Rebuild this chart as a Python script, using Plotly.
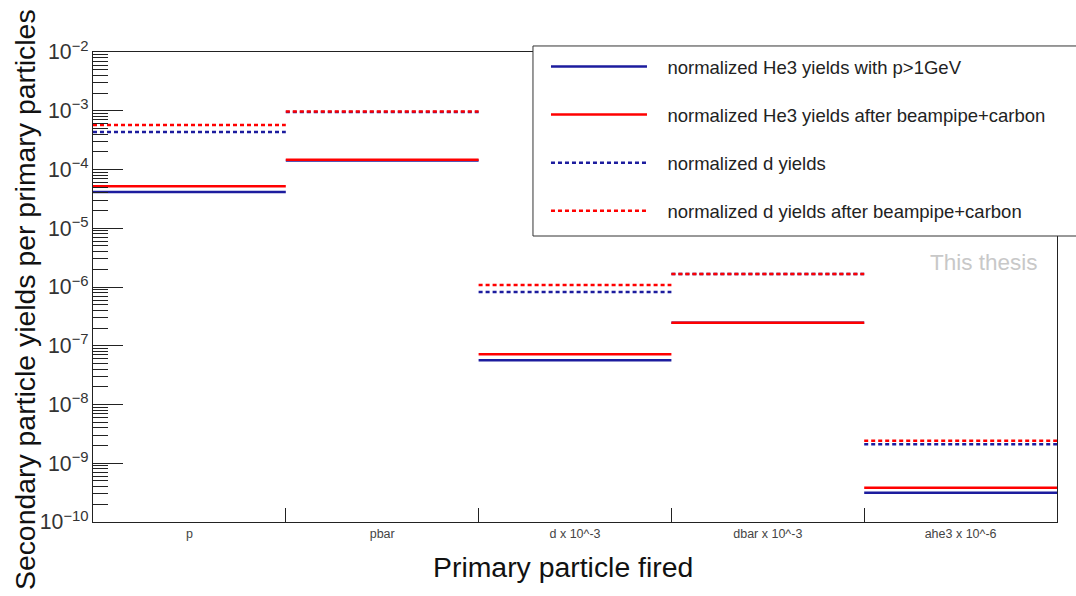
import numpy as np
import plotly.graph_objects as go

# Bins of the primary particle that was fired
categories = ["p", "pbar", "d x 10^-3", "dbar x 10^-3", "ahe3 x 10^-6"]

# Normalised secondary yields per primary particle, one value per bin
he3_p1gev = [4.15e-5, 1.42e-4, 5.65e-8, 2.47e-7, 3.15e-10]
he3_after_pipe = [5.2e-5, 1.47e-4, 7.15e-8, 2.47e-7, 3.84e-10]
d_yields = [4.35e-4, 9.5e-4, 8.2e-7, 1.66e-6, 2.1e-9]
d_after_pipe = [5.7e-4, 9.7e-4, 1.08e-6, 1.66e-6, 2.42e-9]

series = [
    ("normalized He3 yields with p>1GeV", he3_p1gev, "#1c1c9e", "solid"),
    ("normalized He3 yields after beampipe+carbon", he3_after_pipe, "#ff0000", "solid"),
    ("normalized d yields", d_yields, "#1c1c9e", "4px,3px"),
    ("normalized d yields after beampipe+carbon", d_after_pipe, "#ff0000", "4px,3px"),
]


def hist_segments(values):
    """Horizontal bin-wide segments, one per bin, with gaps between bins."""
    xs, ys = [], []
    for i, v in enumerate(values):
        xs += [i, i + 1, None]
        ys += [v, v, None]
    return xs, ys


fig = go.Figure()
pad = "\u00a0" * 3
for k, (name, vals, color, dash) in enumerate(series):
    xs, ys = hist_segments(vals)
    fig.add_trace(go.Scatter(
        x=xs, y=ys, mode="lines", name=pad + name,
        line=dict(color=color, width=2.5, dash=dash),
        legendgroup=f"g{k}",
    ))

font_main = "Liberation Sans, Arial, sans-serif"

fig.update_layout(
    width=1076, height=596, autosize=False,
    margin=dict(l=93, r=19, t=52, b=74),
    paper_bgcolor="white", plot_bgcolor="white",
    font=dict(family=font_main, color="#222"),
    showlegend=True,
    legend=dict(
        x=0.4699, y=1.0085, xanchor="left", yanchor="top",
        bgcolor="rgba(0,0,0,0)", borderwidth=0,
        font=dict(size=18.5, color="#222", family=font_main),
        itemwidth=96, tracegroupgap=21, traceorder="grouped",
    ),
    # frame around the legend, running out to the right edge of the page
    shapes=[
        dict(type="rect", xref="paper", yref="paper",
             x0=0.4564, x1=1.03, y0=0.6085, y1=1.0128,
             line=dict(color="#333", width=1), fillcolor="white", layer="above"),
    ],
    xaxis=dict(
        range=[0, 5], showgrid=False, zeroline=False,
        showline=True, mirror=True, linecolor="#222", linewidth=1,
        tickmode="array", tickvals=[i + 0.5 for i in range(len(categories))],
        ticktext=categories, ticks="",
        tickfont=dict(size=12.5, color="#444", family=font_main),
        minor=dict(tickmode="array", tickvals=list(range(1, len(categories))),
                   ticks="inside", ticklen=14, tickcolor="#222", showgrid=False),
    ),
    yaxis=dict(
        type="log", range=[-10, -2], showgrid=False, zeroline=False,
        showline=True, mirror=True, linecolor="#222", linewidth=1,
        dtick=1, exponentformat="power", showexponent="all",
        ticks="inside", ticklen=30, tickcolor="#222", tickwidth=1,
        tickfont=dict(size=17, color="#333", family=font_main),
        minor=dict(ticks="inside", ticklen=15, tickcolor="#222", dtick="D1", showgrid=False),
    ),
    annotations=[
        dict(text="Secondary particle yields per primary particles", xref="paper", yref="paper",
             x=-0.0705, y=0.4723, xanchor="center", yanchor="middle", textangle=-90,
             showarrow=False, font=dict(size=28.4, color="#111", family=font_main)),
        dict(text="Primary particle fired", xref="paper", yref="paper",
             x=0.4876, y=-0.0957, xanchor="center", yanchor="middle",
             showarrow=False, font=dict(size=28.4, color="#111", family=font_main)),
        dict(text="This thesis", xref="paper", yref="paper",
             x=0.9824, y=0.553, xanchor="right", yanchor="middle",
             showarrow=False, font=dict(size=22.5, color="#c8c8c8", family=font_main)),
    ],
)

fig.write_html("out.html")
